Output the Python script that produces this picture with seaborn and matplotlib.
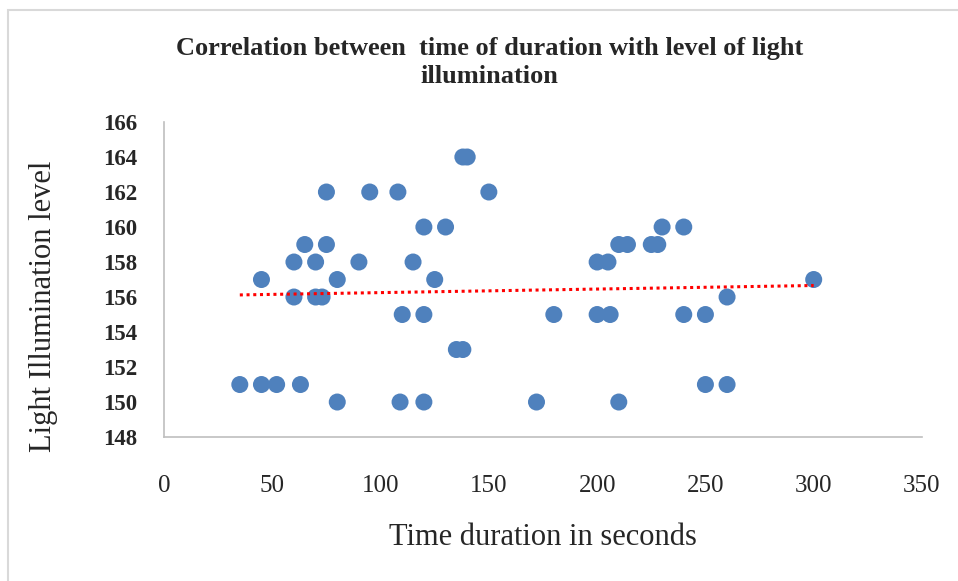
import numpy as np
import pandas as pd
import matplotlib
matplotlib.use("Agg")
import matplotlib.pyplot as plt
from matplotlib.patches import Rectangle
import seaborn as sns

# Data
time_sec = [35, 45, 52, 63, 45, 60, 70, 73, 60, 70, 90, 115, 65, 75, 75, 95, 108,
            80, 125, 110, 120, 80, 109, 120, 120, 130, 135, 138, 138, 140, 150,
            172, 180, 200, 206, 200, 205, 210, 214, 225, 228, 230, 240, 210,
            240, 250, 250, 260, 260, 300]
light_level = [151, 151, 151, 151, 157, 158, 158, 156, 156, 156, 158, 158, 159, 159, 162, 162, 162,
               157, 157, 155, 155, 150, 150, 150, 160, 160, 153, 153, 164, 164, 162,
               150, 155, 155, 155, 158, 158, 159, 159, 159, 159, 160, 160, 150,
               155, 155, 151, 151, 156, 157]

x_ticks = [0, 50, 100, 150, 200, 250, 300, 350]
y_ticks = [148, 150, 152, 154, 156, 158, 160, 162, 164, 166]

title = "Correlation between  time of duration with level of light\nillumination"
x_label = "Time duration in seconds"
y_label = "Light Illumination level"

df = pd.DataFrame({"time": time_sec, "level": light_level})

sns.set_style("white")
plt.rcParams["font.family"] = ["Liberation Serif", "DejaVu Serif"]

fig = plt.figure(figsize=(9.58, 5.81), dpi=100)
ax = fig.add_axes([0.1712, 0.2478, 0.7912, 0.5422])

sns.scatterplot(data=df, x="time", y="level", ax=ax, color="#4F81BD",
                s=150, edgecolor="none", zorder=3)

# Linear trendline across the data range
coef = np.polyfit(df["time"], df["level"], 1)
xs = np.array([df["time"].min(), df["time"].max()])
ax.plot(xs, np.polyval(coef, xs), color="#FF0000", linestyle=(0, (1, 1.2)),
        linewidth=2.2, zorder=4)

ax.set_xlim(0, 350)
ax.set_ylim(148, 166)
ax.set_xticks(x_ticks)
ax.set_yticks(y_ticks)
ax.set_xticklabels([str(t) for t in x_ticks], fontsize=18)
ax.set_yticklabels([str(t) for t in y_ticks], fontsize=16.5, fontweight="bold")
ax.tick_params(axis="both", length=0)
ax.tick_params(axis="x", pad=27)
ax.tick_params(axis="y", pad=19)

ax.set_xlabel(x_label, fontsize=22, labelpad=19)
ax.set_ylabel(y_label, fontsize=22)
ax.yaxis.set_label_coords(-0.14, 0.416)

for side in ["top", "right"]:
    ax.spines[side].set_visible(False)
for side in ["left", "bottom"]:
    ax.spines[side].set_color("#BFBFBF")
    ax.spines[side].set_linewidth(1.2)

fig.text(0.511, 0.892, title, ha="center", va="center", fontsize=19,
         fontweight="bold", linespacing=1.25)

fig.patches.append(Rectangle((0.008, -0.2), 1.2, 1.183, transform=fig.transFigure,
                             fill=False, edgecolor="#D9D9D9", linewidth=1.5))

fig.savefig("out.png", dpi=100)
